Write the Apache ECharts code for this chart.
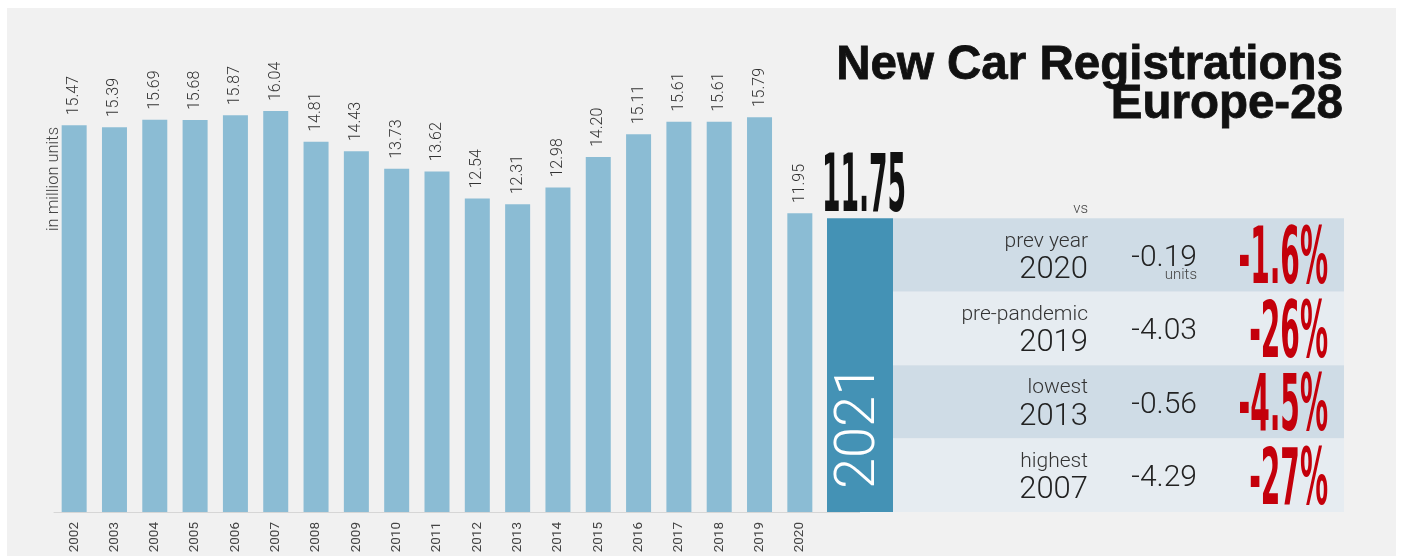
<!DOCTYPE html>
<html>
<head>
<meta charset="utf-8">
<script src="https://cdn.jsdelivr.net/npm/echarts@6/dist/echarts.min.js"></script>
<style>
html,body{margin:0;padding:0;background:#ffffff;}
#panel{position:absolute;left:7px;top:8px;width:1389px;height:548px;background:#f1f1f1;}
#c{position:absolute;left:0;top:0;width:1401px;height:556px;}
</style>
</head>
<body>
<div id="panel"></div>
<div id="c"></div>
<script>
// ---- data ----
const years = ['2002','2003','2004','2005','2006','2007','2008','2009','2010','2011','2012','2013','2014','2015','2016','2017','2018','2019','2020'];
const registrations = [15.47,15.39,15.69,15.68,15.87,16.04,14.81,14.43,13.73,13.62,12.54,12.31,12.98,14.20,15.11,15.61,15.61,15.79,11.95];
const currentYear = '2021';
const currentValue = 11.75;
const titleLines = ['New Car Registrations', 'Europe-28'];
const compareLabels = ['prev year','pre-pandemic','lowest','highest'];
const compareYears = ['2020','2019','2013','2007'];
const diffUnits = ['-0.19','-4.03','-0.56','-4.29'];
const diffPct = ['-1.6%','-26%','-4.5%','-27%'];

const FONT = 'Roboto, "Open Sans", sans-serif';
const chart = echarts.init(document.getElementById('c'), null, {renderer:'canvas'});

chart.setOption({
  backgroundColor: 'transparent',
  animation: false,
  grid: [
    {left: 54, right: 581, top: 12, bottom: 44},
    {left: 827, width: 66, top: 12, bottom: 44}
  ],
  xAxis: [
    {type: 'category', gridIndex: 0, data: years,
     axisLine: {lineStyle: {color: '#d6d6d6', width: 1}},
     axisTick: {show: false},
     axisLabel: {rotate: 90, margin: 10, fontSize: 13.5, color: '#444', fontFamily: FONT}},
    {type: 'category', gridIndex: 1, data: [currentYear], show: false}
  ],
  yAxis: [
    {type: 'value', gridIndex: 0, min: 0, max: 20, show: false},
    {type: 'value', gridIndex: 1, min: 0, max: 20, show: false}
  ],
  series: [
    {type: 'bar', xAxisIndex: 0, yAxisIndex: 0, data: registrations, barWidth: 25,
     itemStyle: {color: '#8bbcd4'},
     label: {show: true, position: 'top', rotate: 90, align: 'left', verticalAlign: 'middle',
             distance: 10, fontSize: 16, fontWeight: 300, color: '#333', fontFamily: FONT,
             formatter: p => p.value.toFixed(2)}},
    {type: 'bar', xAxisIndex: 1, yAxisIndex: 1, data: [currentValue], barWidth: '100%',
     itemStyle: {color: '#4492b5'},
     label: {show: true, position: 'insideBottom', rotate: 90, align: 'left', verticalAlign: 'middle',
             distance: 23, fontSize: 56, fontWeight: 300, color: '#ffffff', fontFamily: FONT,
             formatter: () => currentYear}}
  ]
});

// ---- table & annotations positioned from the 2021 bar ----
const topPt = chart.convertToPixel({xAxisIndex: 1, yAxisIndex: 1}, [currentYear, currentValue]);
const basePt = chart.convertToPixel({xAxisIndex: 1, yAxisIndex: 1}, [currentYear, 0]);
const barHalf = 33;
const tableLeft = topPt[0] + barHalf;
const tableRight = 1344;
const rh = (basePt[1] - topPt[1]) / compareLabels.length;
const condensed = '"Liberation Sans Narrow", "DejaVu Sans Condensed", sans-serif';

const g = [];
// title (two right-aligned lines)
titleLines.forEach((t, i) => {
  g.push({type: 'text', x: 1343, y: 66 + i * 39, silent: true,
    style: {text: t, x: 0, y: 0, align: 'right', verticalAlign: 'middle',
            font: 'bold 47.5px "Liberation Sans", Arial, sans-serif', fill: '#111',
            stroke: '#111', lineWidth: 0.8}});
});
g.push({type: 'text', x: 54, y: 127, rotation: Math.PI / 2, silent: true,
  style: {text: 'in million units', x: 0, y: 0, align: 'right', verticalAlign: 'middle',
          font: '300 16.5px ' + FONT, fill: '#444'}});
g.push({type: 'line', silent: true, shape: {x1: 820, y1: basePt[1] + 0.5, x2: topPt[0], y2: basePt[1] + 0.5},
  style: {stroke: '#d6d6d6', lineWidth: 1}});
g.push({type: 'text', x: topPt[0] + 4, y: topPt[1] - 28, scaleX: 0.37, silent: true,
  style: {text: currentValue.toFixed(2), x: 0, y: 0, align: 'center', verticalAlign: 'middle',
          font: 'bold 80px ' + condensed, fill: '#111'}});
g.push({type: 'text', x: tableLeft + 195, y: topPt[1] - 9, silent: true,
  style: {text: 'vs', x: 0, y: 0, align: 'right', verticalAlign: 'middle', font: '300 15px ' + FONT, fill: '#444'}});

compareLabels.forEach((lab, i) => {
  const rt = topPt[1] + i * rh;
  g.push({type: 'rect', silent: true, z: -1,
    shape: {x: tableLeft, y: rt, width: tableRight - tableLeft, height: rh},
    style: {fill: i % 2 === 0 ? '#cfdce6' : '#e6ecf1'}});
  g.push({type: 'text', x: tableLeft + 195, y: rt + 23, silent: true,
    style: {text: lab, x: 0, y: 0, align: 'right', verticalAlign: 'middle', font: '300 21px ' + FONT, fill: '#333'}});
  g.push({type: 'text', x: tableLeft + 195, y: rt + 52, silent: true,
    style: {text: compareYears[i], x: 0, y: 0, align: 'right', verticalAlign: 'middle', font: '300 31px ' + FONT, fill: '#222'}});
  g.push({type: 'text', x: tableLeft + 304, y: rt + 40, silent: true,
    style: {text: diffUnits[i], x: 0, y: 0, align: 'right', verticalAlign: 'middle', font: '300 30px ' + FONT, fill: '#222'}});
  if (i === 0) {
    g.push({type: 'text', x: tableLeft + 304, y: rt + 57, silent: true,
      style: {text: 'units', x: 0, y: 0, align: 'right', verticalAlign: 'middle', font: '300 15px ' + FONT, fill: '#444'}});
  }
  g.push({type: 'text', x: tableLeft + 435, y: rt + rh / 2 + 8, scaleX: 0.4, silent: true,
    style: {text: diffPct[i], x: 0, y: 0, align: 'right', verticalAlign: 'middle',
            font: 'bold 78px ' + condensed, fill: '#c4000b'}});
});

chart.setOption({graphic: {elements: g}});
</script>
</body>
</html>
